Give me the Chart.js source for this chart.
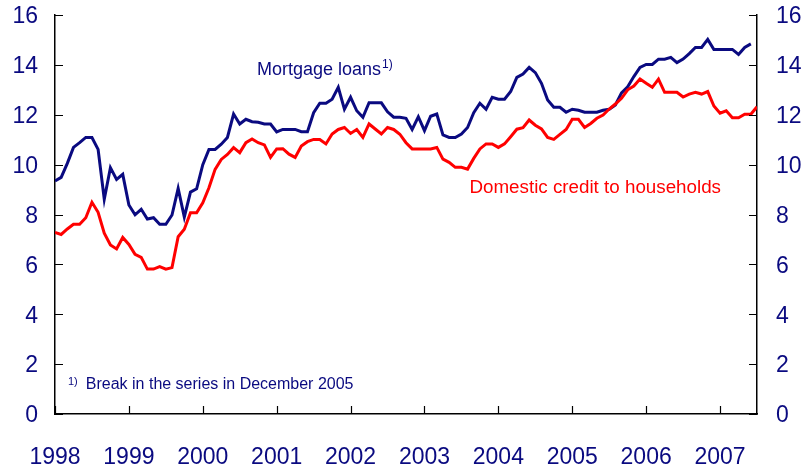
<!DOCTYPE html>
<html>
<head>
<meta charset="utf-8">
<script src="https://cdn.jsdelivr.net/npm/chart.js@4"></script>
<style>
  html, body { margin: 0; padding: 0; background: #fff; }
</style>
</head>
<body>
<canvas id="loansChart" width="808" height="468"></canvas>
<script>
// Year tick labels, one tick every 12 months starting January 1998
const yearLabels = ['1998', '1999', '2000', '2001', '2002', '2003', '2004', '2005', '2006', '2007'];

// Monthly 12-month growth, per cent (Jan 1998 onwards)
const mortgageLoans = [
  9.34, 9.49, 10.05, 10.69, 10.88, 11.09, 11.09, 10.61, 8.61, 9.88, 9.41, 9.61,
  8.38, 7.99, 8.21, 7.82, 7.87, 7.61, 7.61, 7.98, 9.05, 7.9, 8.9, 9.03,
  10.0, 10.61, 10.61, 10.82, 11.09, 12.03, 11.63, 11.82, 11.72, 11.7, 11.63, 11.63,
  11.31, 11.41, 11.41, 11.41, 11.32, 11.32, 12.08, 12.46, 12.46, 12.62, 13.1, 12.22,
  12.7, 12.16, 11.9, 12.48, 12.48, 12.48, 12.12, 11.9, 11.9, 11.86, 11.41, 11.92,
  11.36, 11.94, 12.03, 11.19, 11.09, 11.09, 11.23, 11.49, 12.08, 12.46, 12.22, 12.7,
  12.62, 12.62, 12.93, 13.5, 13.63, 13.9, 13.69, 13.26, 12.59, 12.3, 12.3, 12.1,
  12.22, 12.18, 12.1, 12.1, 12.1, 12.18, 12.22, 12.39, 12.88, 13.12, 13.53, 13.9,
  14.02, 14.02, 14.23, 14.23, 14.3, 14.09, 14.23, 14.45, 14.7, 14.7, 15.02, 14.62,
  14.62, 14.62, 14.62, 14.42, 14.7, 14.84
];

const householdCredit = [
  7.28, 7.2, 7.42, 7.61, 7.61, 7.87, 8.49, 8.09, 7.25, 6.78, 6.62, 7.08,
  6.8, 6.4, 6.28, 5.81, 5.81, 5.91, 5.81, 5.87, 7.11, 7.41, 8.07, 8.07,
  8.47, 9.07, 9.81, 10.21, 10.41, 10.68, 10.48, 10.88, 11.03, 10.88, 10.79, 10.29,
  10.63, 10.64, 10.42, 10.29, 10.75, 10.92, 11.01, 11.01, 10.83, 11.23, 11.41, 11.49,
  11.25, 11.41, 11.09, 11.63, 11.43, 11.23, 11.49, 11.41, 11.22, 10.88, 10.63, 10.63,
  10.63, 10.63, 10.69, 10.22, 10.09, 9.89, 9.89, 9.82, 10.25, 10.63, 10.83, 10.83,
  10.69, 10.83, 11.12, 11.42, 11.48, 11.79, 11.58, 11.43, 11.09, 11.01, 11.21, 11.41,
  11.82, 11.82, 11.49, 11.65, 11.86, 11.99, 12.23, 12.43, 12.66, 13.0, 13.15, 13.43,
  13.26, 13.1, 13.43, 12.9, 12.9, 12.9, 12.71, 12.83, 12.9, 12.83, 12.93, 12.35,
  12.06, 12.16, 11.88, 11.88, 12.02, 12.02, 12.32
];

const NAVY = '#0a0a80';
const RED = '#ff0000';
const FONT = '"Liberation Sans", Arial, sans-serif';

const toPoints = arr => arr.map((v, i) => ({ x: i, y: v }));

// inward tick marks and the text labels inside the plot
const decorations = {
  id: 'decorations',
  afterDraw(chart) {
    const { ctx, chartArea: a, scales } = chart;
    const x = scales.x, y = scales.y;
    ctx.save();
    ctx.strokeStyle = '#000';
    ctx.lineWidth = 1.2;
    ctx.beginPath();
    y.ticks.forEach(t => {
      const py = Math.round(y.getPixelForValue(t.value)) + 0.5;
      ctx.moveTo(a.left, py); ctx.lineTo(a.left + 8, py);
      ctx.moveTo(a.right, py); ctx.lineTo(a.right - 8, py);
    });
    x.ticks.forEach(t => {
      const px = Math.round(x.getPixelForValue(t.value)) + 0.5;
      ctx.moveTo(px, a.bottom); ctx.lineTo(px, a.bottom - 8);
    });
    ctx.stroke();

    ctx.textBaseline = 'middle';
    ctx.textAlign = 'left';

    // Mortgage loans label
    ctx.fillStyle = NAVY;
    ctx.font = '18px ' + FONT;
    let lx = x.getPixelForValue(32.8), ly = y.getPixelForValue(13.8);
    ctx.fillText('Mortgage loans', lx, ly);
    const w = ctx.measureText('Mortgage loans').width;
    ctx.font = '12px ' + FONT;
    ctx.fillText('1)', lx + w + 1, ly - 5);

    // Domestic credit label
    ctx.fillStyle = RED;
    ctx.font = '18.8px ' + FONT;
    ctx.fillText('Domestic credit to households', x.getPixelForValue(67.3), y.getPixelForValue(9.06));

    // footnote
    ctx.fillStyle = NAVY;
    ctx.font = '11px ' + FONT;
    ctx.fillText('1)', x.getPixelForValue(2.1), y.getPixelForValue(1.3));
    ctx.font = '16px ' + FONT;
    ctx.fillText('Break in the series in December 2005', x.getPixelForValue(5.0), y.getPixelForValue(1.16));
    ctx.restore();
  }
};

// label offset is done with an invisible tick length so it does not pad the chart area
const yAxis = (position, width, gap) => ({
  type: 'linear',
  position: position,
  min: 0,
  max: 16,
  grid: { display: false, drawTicks: true, tickLength: gap },
  border: { display: true, color: '#000', width: 1.5 },
  ticks: {
    stepSize: 2,
    color: NAVY,
    padding: 0,
    labelOffset: 2,
    font: { family: FONT, size: 23 }
  },
  afterFit: axis => { axis.width = width; }
});

const ctx = document.getElementById('loansChart').getContext('2d');
new Chart(ctx, {
  type: 'line',
  data: {
    datasets: [
      {
        label: 'Mortgage loans',
        data: toPoints(mortgageLoans),
        borderColor: NAVY,
        borderWidth: 3,
        pointRadius: 0,
        tension: 0,
        yAxisID: 'y',
        order: 2
      },
      {
        label: 'Domestic credit to households',
        data: toPoints(householdCredit),
        borderColor: RED,
        borderWidth: 3,
        pointRadius: 0,
        tension: 0,
        yAxisID: 'y',
        order: 1
      }
    ]
  },
  options: {
    responsive: false,
    animation: false,
    layout: { padding: { top: 15, left: 0, right: 0, bottom: 0 } },
    plugins: {
      legend: { display: false },
      tooltip: { enabled: false }
    },
    scales: {
      x: {
        type: 'linear',
        min: 0,
        max: 114,
        grid: { display: false, drawTicks: true, tickLength: 30 },
        border: { display: true, color: '#000', width: 1.5 },
        ticks: {
          color: NAVY,
          padding: 0,
          autoSkip: false,
          maxRotation: 0,
          font: { family: FONT, size: 23 },
          callback: v => yearLabels[v / 12]
        },
        afterBuildTicks: axis => {
          axis.ticks = yearLabels.map((_, i) => ({ value: i * 12 }));
        },
        afterFit: axis => { axis.height = 54; }
      },
      y: yAxis('left', 55, 17),
      y2: yAxis('right', 51, 19)
    }
  },
  plugins: [decorations]
});
</script>
</body>
</html>
